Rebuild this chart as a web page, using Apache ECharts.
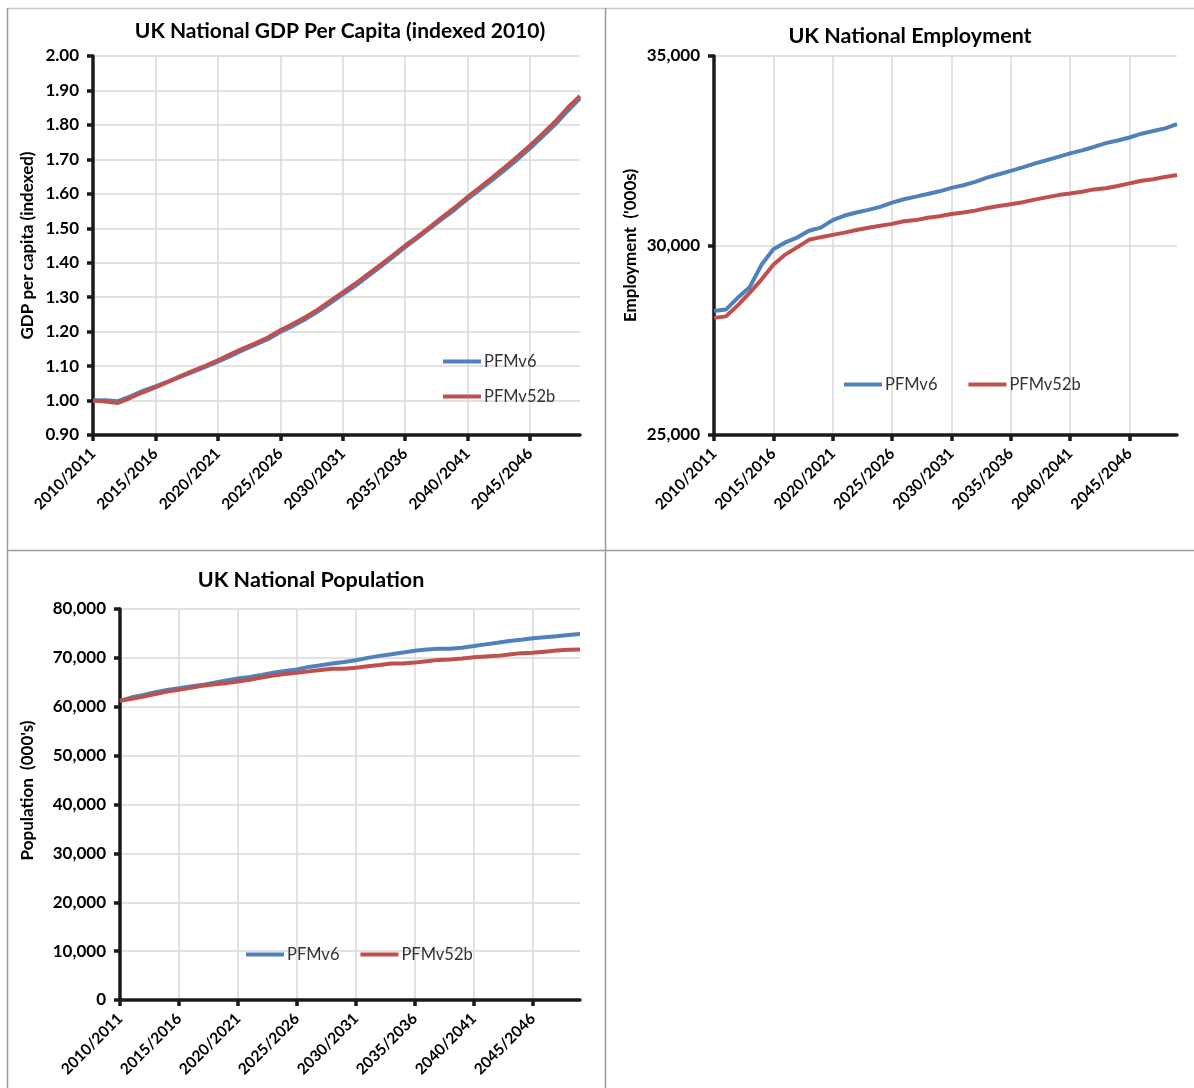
<!DOCTYPE html>
<html>
<head>
<meta charset="utf-8">
<script src="https://cdn.jsdelivr.net/npm/echarts@6/dist/echarts.min.js"></script>
<style>
html,body{margin:0;padding:0;background:#fff;}
#c{width:1194px;height:1088px;}
</style>
</head>
<body>
<div id="c"></div>
<script>
const categories = ["2010/2011","2011/2012","2012/2013","2013/2014","2014/2015","2015/2016","2016/2017","2017/2018","2018/2019","2019/2020",
"2020/2021","2021/2022","2022/2023","2023/2024","2024/2025","2025/2026","2026/2027","2027/2028","2028/2029","2029/2030",
"2030/2031","2031/2032","2032/2033","2033/2034","2034/2035","2035/2036","2036/2037","2037/2038","2038/2039","2039/2040",
"2040/2041","2041/2042","2042/2043","2043/2044","2044/2045","2045/2046","2046/2047","2047/2048","2048/2049","2049/2050"];

const seriesNames = ["PFMv6","PFMv52b"];

const gdpV6 = [1.000,1.001,0.998,1.012,1.028,1.041,1.055,1.069,1.083,1.098,1.113,1.129,1.146,1.162,1.178,1.199,1.216,1.236,1.258,1.283,1.308,1.333,1.360,1.388,1.416,1.445,1.472,1.500,1.528,1.555,1.585,1.613,1.641,1.670,1.700,1.732,1.766,1.801,1.840,1.877];
const gdpV52b = [1.000,0.997,0.993,1.008,1.024,1.038,1.054,1.071,1.086,1.101,1.117,1.134,1.151,1.166,1.183,1.204,1.222,1.242,1.264,1.289,1.314,1.339,1.366,1.393,1.421,1.450,1.476,1.504,1.533,1.561,1.591,1.619,1.648,1.678,1.708,1.740,1.774,1.809,1.849,1.884];

const empV6 = [28270,28310,28620,28900,29490,29900,30080,30210,30390,30470,30670,30790,30870,30940,31020,31130,31220,31290,31360,31430,31520,31590,31680,31790,31880,31970,32060,32160,32250,32340,32430,32510,32600,32700,32770,32850,32950,33020,33090,33200];
const empV52b = [28090,28130,28420,28750,29100,29490,29760,29950,30150,30220,30280,30340,30410,30470,30520,30570,30640,30670,30730,30770,30830,30870,30920,30990,31040,31090,31140,31210,31270,31330,31370,31420,31480,31510,31570,31640,31710,31750,31810,31860];

const popV6 = [61200,61930,62410,62970,63450,63800,64140,64480,64900,65380,65790,66070,66480,66970,67310,67650,68140,68480,68830,69170,69520,70000,70410,70760,71100,71450,71720,71860,71860,72070,72410,72760,73100,73450,73720,74000,74210,74410,74690,74900];
const popV52b = [61200,61650,62070,62620,63100,63450,63860,64280,64620,64830,65170,65520,66000,66410,66690,66970,67240,67520,67790,67790,68000,68280,68550,68830,68830,69030,69310,69590,69660,69860,70140,70280,70410,70690,70970,71030,71240,71520,71660,71720];

const titles = ["UK National GDP Per Capita (indexed 2010)","UK National Employment","UK National Population"];
const yNames = ["GDP per capita (indexed)","Employment  ('000s)","Population  (000's)"];

const FONT = "Lato, 'Noto Sans', sans-serif";
const BLUE = "#4F81BD", RED = "#C0504D", AX = "#1a1a1a", GRIDC = "#d9d9d9";

function fmtComma(v){ return String(Math.round(v)).replace(/\B(?=(\d{3})+(?!\d))/g, ","); }

function xAxis(gi){
  return {
    type:'category', gridIndex:gi, data:categories, boundaryGap:false,
    axisLine:{lineStyle:{color:AX,width:3.5}},
    axisTick:{interval:4,length:6,lineStyle:{color:AX,width:3.5}},
    axisLabel:{interval:4,rotate:45,fontWeight:'bold',fontSize:15.5,color:'#000',margin:16,fontFamily:FONT},
    splitLine:{show:true,interval:4,lineStyle:{color:GRIDC,width:1.5}}
  };
}
function yAxis(gi,min,max,interval,fmt,name,gap,namePad){
  return {
    type:'value', gridIndex:gi, min:min, max:max, interval:interval,
    name:name, nameLocation:'middle', nameRotate:90, nameGap:gap,
    nameTextStyle:{fontWeight:'bold',fontSize:17,color:'#000',fontFamily:FONT,padding:namePad},
    axisLine:{show:true,lineStyle:{color:AX,width:3.5}},
    axisTick:{show:true,length:6,lineStyle:{color:AX,width:3.5}},
    axisLabel:{fontWeight:'bold',fontSize:17,color:'#000',margin:14,fontFamily:FONT,formatter:fmt},
    splitLine:{show:true,lineStyle:{color:GRIDC,width:1.5}}
  };
}
function line(name,data,gi,color){
  return {type:'line',name:name,data:data,xAxisIndex:gi,yAxisIndex:gi,symbol:'none',
    lineStyle:{color:color,width:4},itemStyle:{color:color},z:color===RED?3:2};
}
const legendBase = {icon:'rect',itemWidth:38,itemHeight:4,selectedMode:false,
  textStyle:{fontSize:16.5,color:'#333',fontFamily:FONT,padding:[0,0,0,-2]},data:seriesNames};

const option = {
  animation:false,
  backgroundColor:'#fff',
  title:[
    {text:titles[0],left:335,top:16,textAlign:'center',textStyle:{fontSize:21,fontWeight:'bold',color:'#000',fontFamily:FONT}},
    {text:titles[1],left:905,top:20,textAlign:'center',textStyle:{fontSize:21.5,fontWeight:'bold',color:'#000',fontFamily:FONT}},
    {text:titles[2],left:306,top:564,textAlign:'center',textStyle:{fontSize:21.5,fontWeight:'bold',color:'#000',fontFamily:FONT}}
  ],
  legend:[
    Object.assign({},legendBase,{orient:'vertical',left:438,top:348,itemGap:18}),
    Object.assign({},legendBase,{orient:'horizontal',left:839,top:371,itemGap:31}),
    Object.assign({},legendBase,{orient:'horizontal',left:241,top:941,itemGap:21})
  ],
  grid:[
    {left:93,top:56,width:487,height:379},
    {left:714,top:56,width:463,height:379},
    {left:120,top:609,width:460,height:391}
  ],
  xAxis:[xAxis(0),xAxis(1),xAxis(2)],
  yAxis:[
    yAxis(0,0.9,2.0,0.1,v=>v.toFixed(2),yNames[0],57,[0,0,0,0]),
    yAxis(1,25000,35000,5000,fmtComma,yNames[1],75,[0,0,0,0]),
    yAxis(2,0,80000,10000,fmtComma,yNames[2],84,[0,0,0,28])
  ],
  series:[
    line(seriesNames[0],gdpV6,0,BLUE), line(seriesNames[1],gdpV52b,0,RED),
    line(seriesNames[0],empV6,1,BLUE), line(seriesNames[1],empV52b,1,RED),
    line(seriesNames[0],popV6,2,BLUE), line(seriesNames[1],popV52b,2,RED)
  ],
  graphic:[
    {type:'line',shape:{x1:8,y1:8.5,x2:1194,y2:8.5},style:{stroke:'#c8c8c8',lineWidth:1.5}},
    {type:'line',shape:{x1:7.5,y1:8,x2:7.5,y2:1088},style:{stroke:'#9a9a9a',lineWidth:1.5}},
    {type:'line',shape:{x1:605.5,y1:8,x2:605.5,y2:1088},style:{stroke:'#9a9a9a',lineWidth:1.5}},
    {type:'line',shape:{x1:8,y1:550.5,x2:1194,y2:550.5},style:{stroke:'#9a9a9a',lineWidth:1.5}}
  ]
};
const chart = echarts.init(document.getElementById('c'),null,{renderer:'canvas'});
chart.setOption(option);
</script>
</body>
</html>
